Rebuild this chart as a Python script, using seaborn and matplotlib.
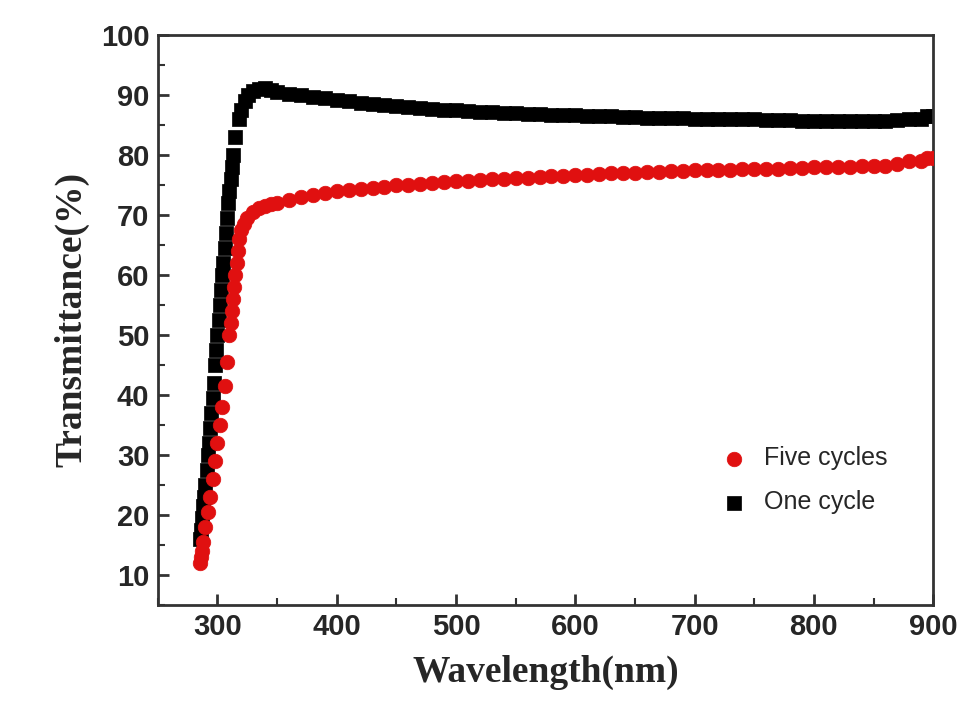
import numpy as np
import matplotlib
matplotlib.use("Agg")
import matplotlib.pyplot as plt
import seaborn as sns

# Five cycles (red)
five_wl = [285, 286, 287, 288, 290, 292, 294, 296, 298, 300, 302, 304, 306, 308, 310,
           311, 312, 313, 314, 315, 316, 317, 318, 320, 322, 325, 330,
           335, 340, 345, 350, 360, 370, 380, 390, 400, 410, 420, 430, 440, 450, 460,
           470, 480, 490, 500, 510, 520, 530, 540, 550, 560, 570, 580, 590, 600, 610,
           620, 630, 640, 650, 660, 670, 680, 690, 700, 710, 720, 730, 740, 750, 760,
           770, 780, 790, 800, 810, 820, 830, 840, 850, 860, 870, 880, 890, 895, 900]
five_t = [12, 13, 14, 15.5, 18, 20.5, 23, 26, 29, 32, 35, 38, 41.5, 45.5, 50,
          52, 54, 56, 58, 60, 62, 64, 66, 67.5, 68.5, 69.5, 70.5,
          71.2, 71.5, 71.8, 72, 72.5, 73, 73.3, 73.6, 73.9, 74.1, 74.3, 74.5, 74.7, 74.9, 75,
          75.2, 75.3, 75.5, 75.6, 75.7, 75.8, 75.9, 76, 76.1, 76.2, 76.3, 76.4, 76.5, 76.6, 76.7,
          76.8, 76.9, 77, 77, 77.1, 77.2, 77.3, 77.3, 77.4, 77.4, 77.5, 77.5, 77.6, 77.6, 77.7,
          77.7, 77.8, 77.8, 77.9, 77.9, 78, 78, 78.1, 78.1, 78.2, 78.4, 79, 79, 79.5, 79.5]

# One cycle (black)
one_wl = [285, 286, 287, 288, 289, 290, 291, 292, 293, 294, 295, 296, 297, 298, 299,
          300, 301, 302, 303, 304, 305, 306, 307, 308, 309, 310, 311, 312, 313, 315,
          318, 320, 323, 326, 330, 335, 340, 345, 350, 360, 370, 380, 390, 400, 410, 420,
          430, 440, 450, 460, 470, 480, 490, 500, 510, 520, 530, 540, 550, 560, 570,
          580, 590, 600, 610, 620, 630, 640, 650, 660, 670, 680, 690, 700, 710, 720,
          730, 740, 750, 760, 770, 780, 790, 800, 810, 820, 830, 840, 850, 860, 870,
          880, 890, 895, 900]
one_t = [16, 17.5, 19.5, 21.5, 23, 25, 27.5, 30, 32, 34.5, 37, 39.5, 42, 45, 47.5,
         50, 52.5, 55, 57.5, 60, 62, 64.5, 67, 69.5, 72, 74, 76, 78, 80, 83,
         86, 87.5, 89, 90, 90.6, 91, 91.1, 90.8, 90.5, 90.1, 89.9, 89.6, 89.4, 89.1, 88.9, 88.7,
         88.5, 88.3, 88.1, 87.9, 87.8, 87.6, 87.5, 87.4, 87.3, 87.2, 87.1, 87, 86.9, 86.8, 86.8,
         86.7, 86.6, 86.6, 86.5, 86.5, 86.4, 86.3, 86.3, 86.2, 86.2, 86.1, 86.1, 86, 86, 86,
         85.9, 85.9, 85.9, 85.8, 85.8, 85.8, 85.7, 85.7, 85.7, 85.6, 85.6, 85.6, 85.6, 85.7, 85.8,
         85.9, 86, 86.5, 86.5]

sns.set_theme(style="white")
plt.rcParams['font.family'] = ['Liberation Sans', 'DejaVu Sans']

fig, ax = plt.subplots(figsize=(9.68, 7.23), dpi=100)
fig.subplots_adjust(left=0.163, right=0.964, top=0.952, bottom=0.163)

sns.scatterplot(x=one_wl, y=one_t, ax=ax, marker="s", color="black", s=90,
                edgecolor="black", linewidth=0.5, label="One cycle", zorder=2)
sns.scatterplot(x=five_wl, y=five_t, ax=ax, marker="o", color="#e01010", s=110,
                edgecolor="#e01010", linewidth=0.5, label="Five cycles", zorder=3)

ax.set_xlim(250, 900)
ax.set_ylim(5, 100)
ax.set_xticks([300, 400, 500, 600, 700, 800, 900])
ax.set_yticks(range(10, 101, 10))
ax.set_xticks(range(250, 901, 50), minor=True)
ax.set_yticks(range(5, 101, 5), minor=True)
ax.tick_params(axis="both", which="both", direction="in", bottom=True, left=True,
               top=False, right=False, color="#333333")
ax.tick_params(axis="both", which="major", length=8, width=2, labelsize=21, pad=6)
ax.tick_params(axis="both", which="minor", length=5, width=1.5)
for lab in ax.get_xticklabels() + ax.get_yticklabels():
    lab.set_fontweight("bold")
for sp in ax.spines.values():
    sp.set_linewidth(2)
    sp.set_color("#333333")

ax.set_xlabel("Wavelength(nm)", fontsize=27, fontweight="bold",
              family=["Liberation Serif", "DejaVu Serif"], labelpad=10)
ax.set_ylabel("Transmittance(%)", fontsize=27, fontweight="bold",
              family=["Liberation Serif", "DejaVu Serif"], labelpad=8)

h, l = ax.get_legend_handles_labels()
ax.legend(h[::-1], l[::-1], loc="lower right", bbox_to_anchor=(0.97, 0.12),
          frameon=False, fontsize=18, handletextpad=0.2, labelspacing=0.8)

fig.savefig("out.png", dpi=100)
